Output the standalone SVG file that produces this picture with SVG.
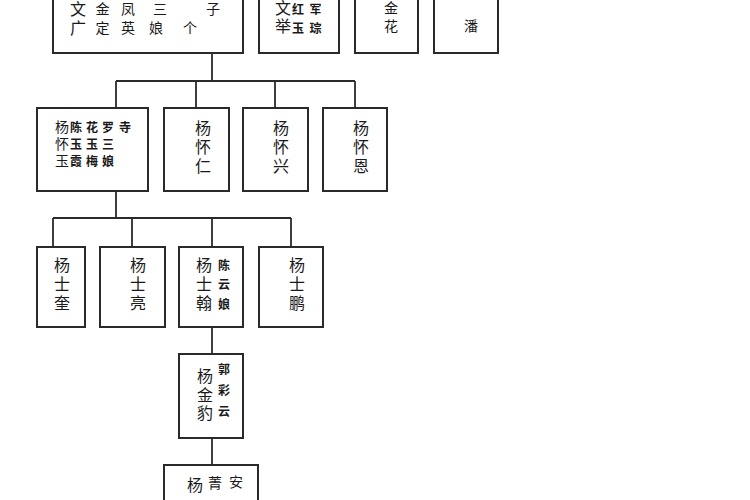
<svg xmlns="http://www.w3.org/2000/svg" width="750" height="500" viewBox="0 0 750 500">
<style>
.box{fill:#fff;stroke:#2a2a2a;stroke-width:2}
.ln{fill:none;stroke:#2a2a2a;stroke-width:1.8}
text{font-family:"Noto Sans CJK SC","Noto Sans",sans-serif;fill:#1a1a1a;text-anchor:middle}
.v{writing-mode:vertical-rl;text-anchor:start}
.b{font-size:16px}
.m{font-size:14px}
.s{font-size:12px;font-weight:bold}
</style>
<rect width="750" height="500" fill="#fff"/>
<g id="connectors">
<path class="ln" d="M212 53V81M116 81H355M116 81V108M196 81V108M275 81V108M355 81V108"/>
<path class="ln" d="M116 191V218M53 218H291M53 218V247M132 218V247M212 218V247M291 218V247"/>
<path class="ln" d="M212 327V354"/>
<path class="ln" d="M212 438V465"/>
</g>
<g id="n1">
<rect class="box" x="53" y="-10" width="190" height="63"/>
<text class="v b" x="78" y="1">文</text>
<text class="v b" x="78" y="20">广</text>
<text class="v m" x="102.5" y="2">金</text>
<text class="v m" x="102.5" y="21">定</text>
<text class="v m" x="128" y="2">凤</text>
<text class="v m" x="128" y="21">英</text>
<text class="v m" x="160" y="2">三</text>
<text class="v m" x="156" y="21">娘</text>
<text class="v m" x="213" y="2">子</text>
<text class="v m" x="190" y="21">个</text>
</g>
<g id="n2">
<rect class="box" x="259" y="-10" width="80" height="63"/>
<text class="v b" x="283" y="0">文</text>
<text class="v b" x="283" y="18">举</text>
<text class="v s" x="298" y="3">红</text>
<text class="v s" x="298" y="22">玉</text>
<text class="v s" x="315.5" y="3">军</text>
<text class="v s" x="315.5" y="22">琮</text>
</g>
<g id="n3">
<rect class="box" x="355" y="-10" width="63" height="63"/>
<text class="v m" x="391" y="1">金</text>
<text class="v m" x="391" y="19">花</text>
</g>
<g id="n4">
<rect class="box" x="434" y="-10" width="64" height="63"/>
<text class="m" x="471" y="31">潘</text>
</g>
<g id="n5">
<rect class="box" x="37" y="108" width="111" height="83"/>
<text class="v m" x="62" y="120">杨</text>
<text class="v m" x="62" y="137">怀</text>
<text class="v m" x="62" y="154">玉</text>
<text class="v s" x="76" y="121">陈</text>
<text class="v s" x="76" y="138">玉</text>
<text class="v s" x="76" y="155">霞</text>
<text class="v s" x="92" y="121">花</text>
<text class="v s" x="92" y="138">玉</text>
<text class="v s" x="92" y="155">梅</text>
<text class="v s" x="108" y="121">罗</text>
<text class="v s" x="108" y="138">三</text>
<text class="v s" x="108" y="155">娘</text>
<text class="v s" x="125" y="121">寺</text>
</g>
<g id="n6">
<rect class="box" x="164" y="108" width="65" height="83"/>
<text class="v b" x="203" y="120">杨</text>
<text class="v b" x="203" y="139">怀</text>
<text class="v b" x="203" y="158">仁</text>
</g>
<g id="n7">
<rect class="box" x="243" y="108" width="65" height="83"/>
<text class="v b" x="281" y="120">杨</text>
<text class="v b" x="281" y="139">怀</text>
<text class="v b" x="281" y="158">兴</text>
</g>
<g id="n8">
<rect class="box" x="323" y="108" width="64" height="83"/>
<text class="v b" x="361" y="120">杨</text>
<text class="v b" x="361" y="139">怀</text>
<text class="v b" x="361" y="158">恩</text>
</g>
<g id="n9">
<rect class="box" x="37" y="247" width="48" height="80"/>
<text class="v b" x="62" y="257">杨</text>
<text class="v b" x="62" y="276">士</text>
<text class="v b" x="62" y="295">奎</text>
</g>
<g id="n10">
<rect class="box" x="100" y="247" width="65" height="80"/>
<text class="v b" x="138" y="257">杨</text>
<text class="v b" x="138" y="276">士</text>
<text class="v b" x="138" y="295">亮</text>
</g>
<g id="n11">
<rect class="box" x="179" y="247" width="64" height="80"/>
<text class="v b" x="204" y="257">杨</text>
<text class="v b" x="204" y="276">士</text>
<text class="v b" x="204" y="295">翰</text>
<text class="v s" x="224" y="259">陈</text>
<text class="v s" x="224" y="278.5">云</text>
<text class="v s" x="224" y="298">娘</text>
</g>
<g id="n12">
<rect class="box" x="259" y="247" width="64" height="80"/>
<text class="v b" x="297" y="257">杨</text>
<text class="v b" x="297" y="276">士</text>
<text class="v b" x="297" y="295">鹏</text>
</g>
<g id="n13">
<rect class="box" x="179" y="354" width="64" height="84"/>
<text class="v b" x="205" y="368">杨</text>
<text class="v b" x="205" y="386.5">金</text>
<text class="v b" x="205" y="405">豹</text>
<text class="v s" x="224" y="363">郭</text>
<text class="v s" x="224" y="384">彩</text>
<text class="v s" x="224" y="405">云</text>
</g>
<g id="n14">
<rect class="box" x="164" y="465" width="94" height="50"/>
<text class="b" x="195" y="491">杨</text>
<text class="m" x="215" y="488">菁</text>
<text class="m" x="236" y="487">安</text>
</g>
</svg>
